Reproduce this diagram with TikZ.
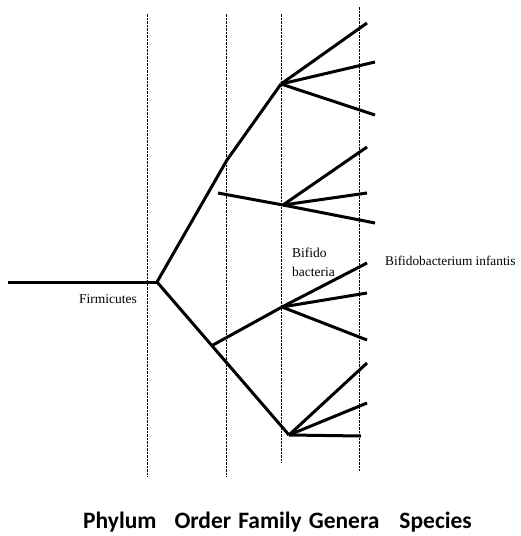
\documentclass[tikz,border=0pt]{standalone}
\usepackage{fontspec}
\setmainfont{Liberation Serif}
\newfontfamily\labfont{Carlito}
\begin{document}
\begin{tikzpicture}[x=1pt,y=-1pt,
  branch/.style={line width=3pt,line cap=butt,line join=miter},
  guide/.style={line width=0.9pt,dash pattern=on 2.5pt off 1pt},
  lab/.style={inner sep=0pt},
  rank/.style={font=\labfont\bfseries\fontsize{23.5}{25}\selectfont,inner sep=0pt}]
\useasboundingbox (0,0) rectangle (520,536);
% guide lines
\coordinate (g1t) at (147,14); \coordinate (g1b) at (147,477);
\coordinate (g2t) at (226,14); \coordinate (g2b) at (226,477);
\coordinate (g3t) at (281,14); \coordinate (g3b) at (281,463);
\coordinate (g4t) at (359,7);  \coordinate (g4b) at (359,471);
\draw[guide] (g1t) -- (g1b);
\draw[guide] (g2t) -- (g2b);
\draw[guide] (g3t) -- (g3b);
\draw[guide] (g4t) -- (g4b);
% nodes
\coordinate (start) at (8,282);
\coordinate (root) at (157,282);
\coordinate (k1) at (227,160);
\coordinate (f1) at (281,84);
\coordinate (o2) at (218,193);
\coordinate (f2) at (283,205);
\coordinate (o3) at (213,345);
\coordinate (f3) at (282,307);
\coordinate (f4) at (289,435);
\coordinate (s1) at (367,23);
\coordinate (s2) at (375,62);
\coordinate (s3) at (375,115);
\coordinate (s4) at (367,147);
\coordinate (s5) at (367,193);
\coordinate (s6) at (375,223);
\coordinate (s7) at (367,263);
\coordinate (s8) at (367,293);
\coordinate (s9) at (367,340);
\coordinate (s10) at (367,363);
\coordinate (s11) at (367,403);
\coordinate (s12) at (361,436);
% branches
\draw[branch] (start) -- (root);
\draw[branch] (root) -- (k1) -- (f1);
\draw[branch] (root) -- (f4);
\draw[branch] (o2) -- (f2);
\draw[branch] (o3) -- (f3);
\draw[branch] (f1) -- (s1); \draw[branch] (f1) -- (s2); \draw[branch] (f1) -- (s3);
\draw[branch] (f2) -- (s4); \draw[branch] (f2) -- (s5); \draw[branch] (f2) -- (s6);
\draw[branch] (f3) -- (s7); \draw[branch] (f3) -- (s8); \draw[branch] (f3) -- (s9);
\draw[branch] (f4) -- (s10); \draw[branch] (f4) -- (s11); \draw[branch] (f4) -- (s12);
% labels
\node[lab,font=\fontsize{13.5}{14}\selectfont,anchor=base west] (firm) at (79,303) {Firmicutes};
\node[lab,font=\fontsize{13.5}{19}\selectfont,anchor=base west,align=left] (bifido) at (292,276) {Bifido\\bacteria};
\node[lab,font=\fontsize{13.3}{15}\selectfont,anchor=base west] (infantis) at (385,265) {Bifidobacterium infantis};
\node[rank,anchor=base west] (ranks) at (83,528) {Phylum\hspace{18pt}Order\hspace{7pt}Family\hspace{7pt}Genera\hspace{20pt}Species};
\end{tikzpicture}
\end{document}
